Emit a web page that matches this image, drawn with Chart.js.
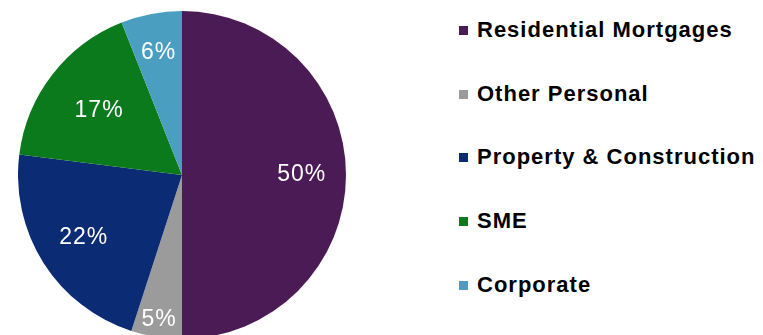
<!DOCTYPE html>
<html>
<head>
<meta charset="utf-8">
<script src="https://cdn.jsdelivr.net/npm/chart.js@4/dist/chart.umd.min.js"></script>
<style>
  html, body { margin: 0; padding: 0; background: #fff; overflow: hidden; width: 763px; height: 335px; }
  #pieBox { position: absolute; left: 18px; top: 11px; width: 328px; height: 328px; }
  #legend { position: absolute; left: 459px; top: 17px; margin: 0; padding: 0; list-style: none;
    font-family: "Liberation Sans", Arial, sans-serif; font-weight: bold; font-size: 22px;
    letter-spacing: 1px; color: #000; }
  #legend li { height: 63.7px; display: flex; align-items: flex-start; white-space: nowrap; }
  #legend .sw { width: 9px; height: 9px; margin: 9px 9px 0 0; flex: none; }
</style>
</head>
<body>
<div id="pieBox"><canvas id="pie"></canvas></div>
<ul id="legend"></ul>
<script>
const categories = ["Residential Mortgages", "Other Personal", "Property & Construction", "SME", "Corporate"];
const shares = [50, 5, 22, 17, 6];
const sliceColors = ["#4b1b55", "#9b9b9b", "#0c2b75", "#0b7a1c", "#4a9fc1"];

// where each percentage sits, as a fraction of the radius
const labelRadius = [0.73, 0.89, 0.71, 0.64, 0.76];

const sliceLabels = {
  id: "sliceLabels",
  afterDatasetsDraw(chart) {
    const { ctx } = chart;
    const meta = chart.getDatasetMeta(0);
    ctx.save();
    ctx.fillStyle = "#fff";
    ctx.font = '23px "Liberation Sans", Arial, sans-serif';
    ctx.letterSpacing = "1px";
    ctx.textAlign = "center";
    ctx.textBaseline = "middle";
    meta.data.forEach((arc, i) => {
      const { x, y, startAngle, endAngle, outerRadius } = arc.getProps(["x", "y", "startAngle", "endAngle", "outerRadius"]);
      const mid = (startAngle + endAngle) / 2;
      const r = outerRadius * labelRadius[i];
      ctx.fillText(shares[i] + "%", x + Math.cos(mid) * r, y + Math.sin(mid) * r);
    });
    ctx.restore();
  },
};

const htmlLegend = {
  id: "htmlLegend",
  afterUpdate(chart) {
    const ul = document.getElementById("legend");
    ul.innerHTML = "";
    const items = chart.options.plugins.legend.labels.generateLabels(chart);
    items.forEach((item) => {
      const li = document.createElement("li");
      const sw = document.createElement("span");
      sw.className = "sw";
      sw.style.background = item.fillStyle;
      const txt = document.createElement("span");
      txt.textContent = item.text;
      li.appendChild(sw);
      li.appendChild(txt);
      ul.appendChild(li);
    });
  },
};

new Chart(document.getElementById("pie"), {
  type: "pie",
  data: {
    labels: categories,
    datasets: [{
      data: shares,
      backgroundColor: sliceColors,
      borderWidth: 0,
    }],
  },
  options: {
    responsive: true,
    maintainAspectRatio: false,
    animation: false,
    layout: { padding: 0 },
    plugins: {
      legend: { display: false },
      tooltip: { enabled: false },
    },
  },
  plugins: [sliceLabels, htmlLegend],
});
</script>
</body>
</html>
